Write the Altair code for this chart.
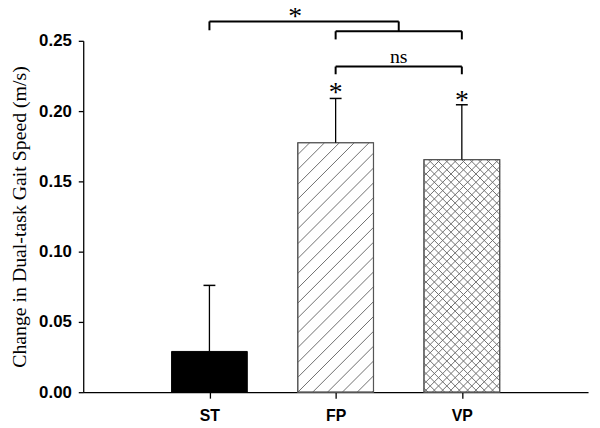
import altair as alt
import pandas as pd

# ---- data ----
groups = ["ST", "FP", "VP"]
positions = [1, 2, 3]
means = [0.029, 0.1775, 0.1655]
errors = [0.047, 0.0315, 0.039]
patterns = ["solid", "diag", "cross"]

# significance annotations (x in group-position units, y in m/s)
brackets_x1 = [1.0, 2.0, 2.0]
brackets_x2 = [2.5, 3.0, 3.0]
brackets_y = [0.2638, 0.2568, 0.2317]
brackets_leg1 = [0.2575, 0.2510, 0.2262]
brackets_leg2 = [0.2568, 0.2510, 0.2262]
stars_x = [1.68, 2.0, 3.0]
stars_y = [0.2705, 0.2162, 0.2110]
ns_text = ["ns"]
ns_x = [2.5]
ns_y = [0.2387]

# ---- layout constants ----
W, H = 510, 355
XDOM = [0, 4]
YDOM = [0, 0.25]
PX_X = W / (XDOM[1] - XDOM[0])
PX_Y = H / (YDOM[1] - YDOM[0])
HALF = 0.3
CAP = 0.047
STAR_FS = 28

bars = pd.DataFrame({"group": groups, "pos": positions, "mean": means,
                     "err": errors, "pattern": patterns})
bars["x0"] = bars["pos"] - HALF
bars["x1"] = bars["pos"] + HALF
bars["top"] = bars["mean"] + bars["err"]
bars["c0"] = bars["pos"] - CAP
bars["c1"] = bars["pos"] + CAP
bars["zero"] = 0.0


def hatch(x0, x1, top, step, direction):
    """line segments of a 45-degree hatch clipped to a bar (pixel math -> data units)"""
    w = (x1 - x0) * PX_X
    h = top * PX_Y
    segs = []
    if direction == "/":
        c = -h + (h % step)
        while c < w:
            ya, yb = max(0.0, -c), min(h, w - c)
            if yb > ya:
                segs.append((x0 + (ya + c) / PX_X, ya / PX_Y, x0 + (yb + c) / PX_X, yb / PX_Y))
            c += step
    else:
        c = step / 2
        while c < w + h:
            ya, yb = max(0.0, c - w), min(h, c)
            if yb > ya:
                segs.append((x0 + (c - ya) / PX_X, ya / PX_Y, x0 + (c - yb) / PX_X, yb / PX_Y))
            c += step
    return segs


hrows = []
for _, r in bars.iterrows():
    if r["pattern"] == "diag":
        hrows += hatch(r["x0"], r["x1"], r["mean"], 15.0, "/")
    elif r["pattern"] == "cross":
        hrows += hatch(r["x0"], r["x1"], r["mean"], 8.4, "/")
        hrows += hatch(r["x0"], r["x1"], r["mean"], 8.4, "\\")
hatch_df = pd.DataFrame(hrows, columns=["hx0", "hy0", "hx1", "hy1"])

# bracket segments
seg_rows = []
for a, b, y, l1, l2 in zip(brackets_x1, brackets_x2, brackets_y, brackets_leg1, brackets_leg2):
    seg_rows.append((a, y, b, y))
    seg_rows.append((a, y, a, l1))
    seg_rows.append((b, y, b, l2))
seg_df = pd.DataFrame(seg_rows, columns=["sx0", "sy0", "sx1", "sy1"])
star_df = pd.DataFrame({"t": ["*"] * len(stars_x), "x": stars_x, "y": stars_y})
ns_df = pd.DataFrame({"t": ns_text, "x": ns_x, "y": ns_y})

xs = alt.Scale(domain=XDOM, nice=False)
ys = alt.Scale(domain=YDOM, nice=False)

label_expr = "datum.value == 1 ? 'ST' : datum.value == 2 ? 'FP' : datum.value == 3 ? 'VP' : ''"

base = alt.Chart(bars)

rects = base.mark_rect(strokeWidth=1).encode(
    x=alt.X("x0:Q", scale=xs, axis=alt.Axis(values=[1, 2, 3], labelExpr=label_expr, title=None,
                                             grid=False, domainColor="black", tickColor="black",
                                             tickSize=6, labelFont="Liberation Sans",
                                             labelFontWeight="bold", labelFontSize=16,
                                             labelColor="black", labelPadding=10)),
    x2="x1:Q",
    y=alt.Y("zero:Q", scale=ys, axis=alt.Axis(values=[0, 0.05, 0.1, 0.15, 0.2, 0.25], format=".2f",
                                               title="Change in Dual-task Gait Speed (m/s)",
                                               grid=False, domainColor="black", tickColor="black",
                                               tickSize=5, labelFont="Liberation Sans",
                                               labelFontWeight="bold", labelFontSize=17,
                                               labelColor="black", labelPadding=7,
                                               titleFont="Liberation Serif", titleFontSize=20,
                                               titleFontWeight="normal", titleColor="black",
                                               titlePadding=9)),
    y2="mean:Q",
    fill=alt.Fill("pattern:N", scale=alt.Scale(domain=["solid", "diag", "cross"],
                                                range=["#000000", "#ffffff", "#ffffff"]), legend=None),
    stroke=alt.Stroke("pattern:N", scale=alt.Scale(domain=["solid", "diag", "cross"],
                                                    range=["#000000", "#555555", "#555555"]), legend=None),
)

hatch_lines = alt.Chart(hatch_df).mark_rule(color="#6e6e6e", strokeWidth=1).encode(
    x=alt.X("hx0:Q", scale=xs), y=alt.Y("hy0:Q", scale=ys), x2="hx1:Q", y2="hy1:Q")

outline = base.transform_filter("datum.pattern != 'solid'").mark_rect(
    fill=None, stroke="#555555", strokeWidth=1.2).encode(
    x=alt.X("x0:Q", scale=xs), x2="x1:Q", y=alt.Y("zero:Q", scale=ys), y2="mean:Q")

err_line = base.mark_rule(color="black", strokeWidth=1.3).encode(
    x=alt.X("pos:Q", scale=xs), y=alt.Y("mean:Q", scale=ys), y2="top:Q")
err_cap = base.mark_rule(color="black", strokeWidth=1.5).encode(
    x=alt.X("c0:Q", scale=xs), x2="c1:Q", y=alt.Y("top:Q", scale=ys))

segs = alt.Chart(seg_df).mark_rule(color="black", strokeWidth=2).encode(
    x=alt.X("sx0:Q", scale=xs), y=alt.Y("sy0:Q", scale=ys), x2="sx1:Q", y2="sy1:Q")

stars = alt.Chart(star_df).mark_text(
    font="Liberation Serif", fontSize=STAR_FS, color="black", baseline="alphabetic",
    dy=round(0.45 * STAR_FS)).encode(
    x=alt.X("x:Q", scale=xs), y=alt.Y("y:Q", scale=ys), text="t:N")
ns = alt.Chart(ns_df).mark_text(
    font="Liberation Serif", fontSize=20, color="black", baseline="middle").encode(
    x=alt.X("x:Q", scale=xs), y=alt.Y("y:Q", scale=ys), text="t:N")

chart = alt.layer(rects, hatch_lines, outline, err_line, err_cap, segs, stars, ns).properties(
    width=W, height=H,
    autosize=alt.AutoSizeParams(type="none"),
    padding={"left": 76, "top": 31, "right": 4, "bottom": 34},
).configure_view(stroke=None).configure_axis(domainWidth=1.3, tickWidth=1.3)

chart.save("out.html", embed_options={"renderer": "svg", "actions": False})
